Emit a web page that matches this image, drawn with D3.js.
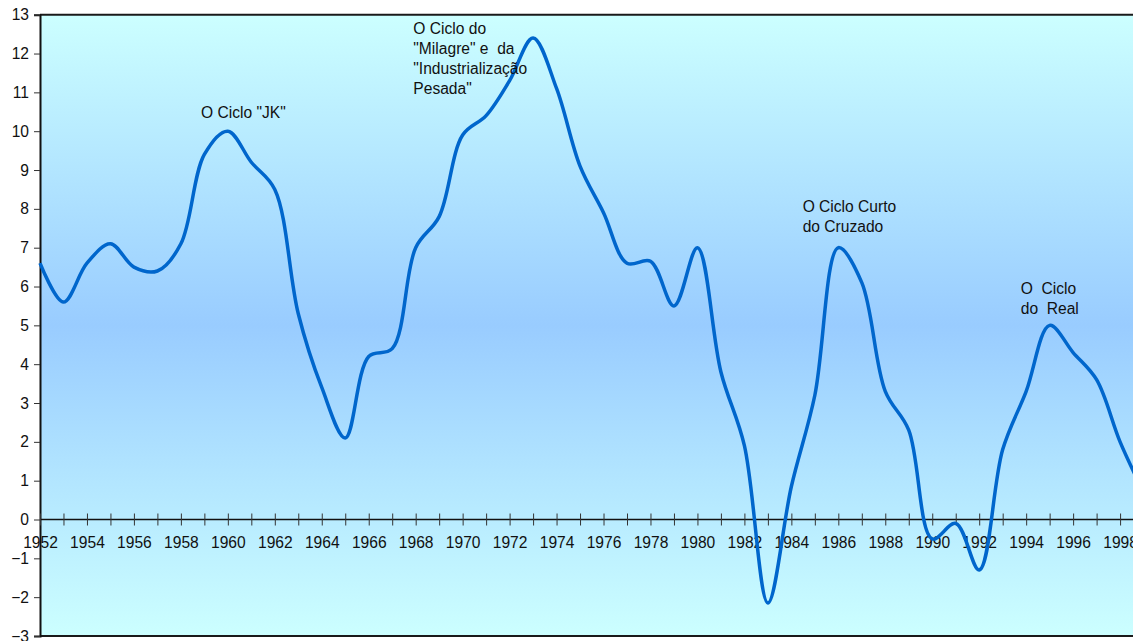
<!DOCTYPE html>
<html>
<head>
<meta charset="utf-8">
<script src="https://cdn.jsdelivr.net/npm/d3@7"></script>
<style>
  html, body { margin: 0; padding: 0; background: #ffffff; overflow: hidden; }
  svg { display: block; font-family: "Liberation Sans", Arial, sans-serif; }
</style>
</head>
<body>
<svg id="chart" width="1133" height="641"></svg>
<script>
// Taxa de crescimento do PIB (%), 1952-1999
const years = d3.range(1952, 2000);
const growth = [
  6.6, 5.6, 6.6, 7.1, 6.5, 6.4, 7.1, 9.4, 10.0, 9.2,
  8.5, 5.3, 3.4, 2.1, 4.2, 4.4, 7.0, 7.8, 9.9, 10.4,
  11.3, 12.4, 11.1, 9.1, 7.9, 6.6, 6.65, 5.5, 7.0, 3.8,
  1.9, -2.15, 0.85, 3.2, 7.0, 6.1, 3.3, 2.3, -0.5, -0.1,
  -1.3, 1.8, 3.3, 5.0, 4.3, 3.6, 2.0, 0.7
];
const yTicks = d3.range(-3, 14);

// Ciclos anotados: ano e valor de referência de cada bloco de texto
const cycleLines = [
  ["O Ciclo \"JK\""],
  ["O Ciclo do", "\"Milagre\" e  da", "\"Industrialização", "Pesada\""],
  ["O Ciclo Curto", "do Cruzado"],
  ["O  Ciclo", "do  Real"]
];
const cycleYears = [1958.86, 1967.9, 1984.48, 1993.77];
const cycleValues = [10.33, 12.51, 7.92, 5.81];

const svg = d3.select("#chart");
const plotLeft = 40, plotTop = 14.7, plotBottom = 636;
const yearStep = 23.48;
const fontSize = 15.6;

const x = d3.scaleLinear()
  .domain([1952, 1999])
  .range([plotLeft, plotLeft + 47 * yearStep]);
const y = d3.scaleLinear()
  .domain([-3, 13])
  .range([plotBottom, plotTop]);

const plotRight = x(1999) + 20;

// Fundo em degradê (ciano - azul - ciano)
const defs = svg.append("defs");
const grad = defs.append("linearGradient")
  .attr("id", "bg").attr("x1", 0).attr("y1", 0).attr("x2", 0).attr("y2", 1);
grad.append("stop").attr("offset", "0%").attr("stop-color", "#CCFFFF");
grad.append("stop").attr("offset", "50%").attr("stop-color", "#99CCFF");
grad.append("stop").attr("offset", "100%").attr("stop-color", "#CCFFFF");

svg.append("rect")
  .attr("x", plotLeft).attr("y", plotTop)
  .attr("width", plotRight - plotLeft).attr("height", plotBottom - plotTop)
  .attr("fill", "url(#bg)");

// Bordas superior e inferior da área de plotagem
svg.append("line")
  .attr("x1", plotLeft).attr("x2", plotRight).attr("y1", plotTop).attr("y2", plotTop)
  .attr("stroke", "#1a1a1a").attr("stroke-width", 2);
svg.append("line")
  .attr("x1", plotLeft).attr("x2", plotRight).attr("y1", plotBottom).attr("y2", plotBottom)
  .attr("stroke", "#1a1a1a").attr("stroke-width", 2);

// Eixo Y
const yAxis = svg.append("g")
  .attr("transform", `translate(${plotLeft},0)`)
  .call(d3.axisLeft(y).tickValues(yTicks).tickSize(6).tickPadding(0).tickFormat(d3.format("d")));
yAxis.select(".domain").attr("stroke", "#111").attr("stroke-width", 2);
yAxis.selectAll(".tick line").attr("stroke", "#333").attr("stroke-width", 1);
yAxis.selectAll(".tick text")
  .attr("x", -11)
  .attr("font-size", fontSize)
  .attr("fill", "#111")
  .attr("font-family", "Liberation Sans, Arial, sans-serif");

// Eixo X na linha do zero
const xAxis = svg.append("g")
  .attr("transform", `translate(0,${y(0)})`)
  .call(d3.axisBottom(x).tickValues(years).tickSize(6).tickSizeOuter(0)
    .tickFormat(d => (d % 2 === 0 ? String(d) : "")));
xAxis.select(".domain").attr("stroke", "#111").attr("stroke-width", 1.3)
  .attr("d", `M${plotLeft},0H${plotRight}`);
xAxis.selectAll(".tick line").attr("y1", -6).attr("stroke", "#333").attr("stroke-width", 1);
xAxis.selectAll(".tick text")
  .attr("y", 28)
  .attr("dy", 0)
  .attr("font-size", fontSize)
  .attr("fill", "#111")
  .attr("font-family", "Liberation Sans, Arial, sans-serif");

// Série suavizada
const line = d3.line()
  .x((d, i) => x(years[i]))
  .y(d => y(d))
  .curve(d3.curveCatmullRom.alpha(0.5));

svg.append("path")
  .datum(growth)
  .attr("d", line)
  .attr("fill", "none")
  .attr("stroke", "#0066CC")
  .attr("stroke-width", 3.5)
  .attr("stroke-linejoin", "round");

// Rótulos dos ciclos
const notes = svg.append("g")
  .attr("font-size", fontSize)
  .attr("fill", "#111");
cycleLines.forEach((lines, k) => {
  const t = notes.append("text")
    .attr("xml:space", "preserve")
    .style("white-space", "pre")
    .attr("x", x(cycleYears[k]))
    .attr("y", y(cycleValues[k]));
  lines.forEach((s, j) => {
    t.append("tspan")
      .attr("x", x(cycleYears[k]))
      .attr("dy", j === 0 ? 0 : 20.2)
      .text(s);
  });
});
</script>
</body>
</html>
